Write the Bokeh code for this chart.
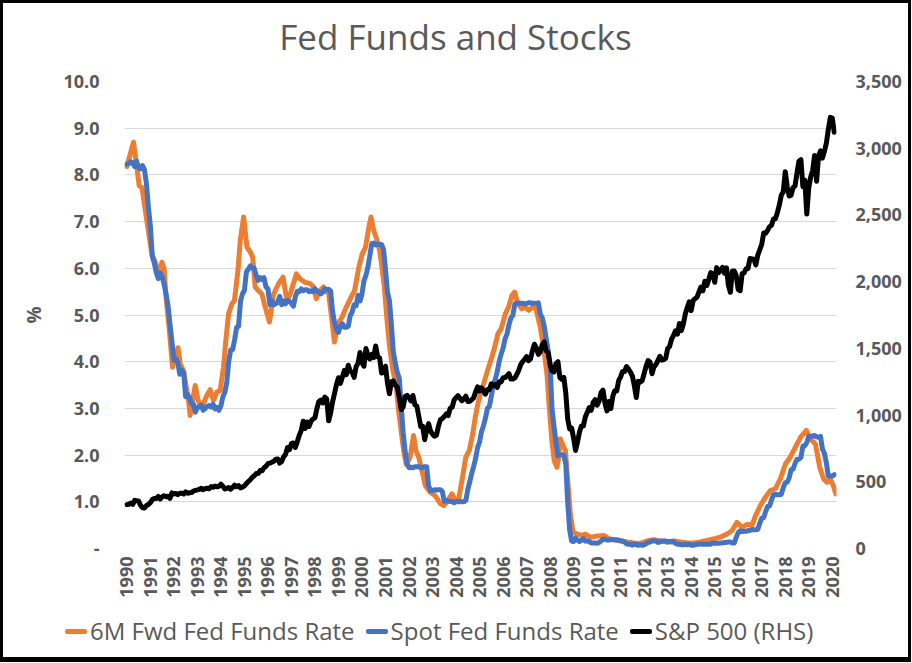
import numpy as np
from bokeh.plotting import figure
from bokeh.layouts import column
from bokeh.models import (Range1d, LinearAxis, FixedTicker, NumeralTickFormatter, Div)
from bokeh.embed import file_html
from bokeh.resources import INLINE

# ---------------- data ----------------
start_year = 1990  # monthly series start in January 1990

# Spot (effective) Fed Funds rate, monthly, Jan 1990 - Feb 2020 (%)
spot_rate = [
    8.23, 8.24, 8.28, 8.26, 8.18, 8.29, 8.15, 8.13, 8.20, 8.11, 7.81, 7.31,
    6.91, 6.25, 6.12, 5.91, 5.78, 5.90, 5.82, 5.66, 5.45, 5.21, 4.81, 4.43,
    4.03, 4.06, 3.98, 3.73, 3.82, 3.76, 3.25, 3.30, 3.22, 3.10, 3.09, 2.92,
    3.02, 3.03, 3.07, 2.96, 3.00, 3.04, 3.06, 3.03, 3.09, 2.99, 3.02, 2.96,
    3.05, 3.25, 3.34, 3.56, 4.01, 4.25, 4.26, 4.47, 4.73, 4.76, 5.29, 5.45,
    5.53, 5.92, 5.98, 6.05, 6.01, 6.00, 5.85, 5.74, 5.80, 5.76, 5.80, 5.60,
    5.56, 5.22, 5.31, 5.22, 5.24, 5.27, 5.40, 5.22, 5.30, 5.24, 5.31, 5.29,
    5.25, 5.19, 5.39, 5.51, 5.50, 5.56, 5.52, 5.54, 5.54, 5.50, 5.52, 5.50,
    5.56, 5.51, 5.49, 5.45, 5.49, 5.56, 5.54, 5.55, 5.51, 5.07, 4.83, 4.68,
    4.63, 4.76, 4.81, 4.74, 4.74, 4.76, 4.99, 5.07, 5.22, 5.20, 5.42, 5.30,
    5.45, 5.73, 5.85, 6.02, 6.27, 6.53, 6.54, 6.50, 6.52, 6.51, 6.51, 6.40,
    5.98, 5.49, 5.31, 4.80, 4.21, 3.97, 3.77, 3.65, 3.07, 2.49, 2.09, 1.82,
    1.73, 1.74, 1.73, 1.75, 1.75, 1.75, 1.73, 1.74, 1.75, 1.75, 1.34, 1.24,
    1.24, 1.26, 1.25, 1.26, 1.26, 1.22, 1.01, 1.03, 1.01, 1.01, 1.00, 0.98,
    1.00, 1.01, 1.00, 1.00, 1.00, 1.03, 1.26, 1.43, 1.61, 1.76, 1.93, 2.16,
    2.28, 2.50, 2.63, 2.79, 3.00, 3.04, 3.26, 3.50, 3.62, 3.78, 4.00, 4.16,
    4.29, 4.49, 4.59, 4.79, 4.94, 4.99, 5.24, 5.25, 5.25, 5.25, 5.25, 5.24,
    5.25, 5.26, 5.26, 5.25, 5.25, 5.25, 5.26, 5.02, 4.94, 4.76, 4.49, 4.24,
    3.94, 2.98, 2.61, 2.28, 1.98, 2.00, 2.01, 2.00, 1.81, 0.97, 0.39, 0.16,
    0.15, 0.22, 0.18, 0.15, 0.18, 0.21, 0.16, 0.16, 0.15, 0.12, 0.12, 0.12,
    0.11, 0.13, 0.16, 0.20, 0.20, 0.18, 0.18, 0.19, 0.19, 0.19, 0.19, 0.18,
    0.17, 0.16, 0.14, 0.10, 0.09, 0.09, 0.07, 0.10, 0.08, 0.07, 0.08, 0.07,
    0.08, 0.10, 0.13, 0.14, 0.16, 0.16, 0.16, 0.13, 0.14, 0.16, 0.16, 0.16,
    0.14, 0.15, 0.14, 0.15, 0.11, 0.09, 0.09, 0.08, 0.08, 0.09, 0.08, 0.09,
    0.07, 0.07, 0.08, 0.09, 0.09, 0.10, 0.09, 0.09, 0.09, 0.09, 0.09, 0.12,
    0.11, 0.11, 0.11, 0.12, 0.12, 0.13, 0.13, 0.14, 0.14, 0.12, 0.12, 0.24,
    0.34, 0.38, 0.36, 0.37, 0.37, 0.38, 0.39, 0.40, 0.40, 0.40, 0.41, 0.54,
    0.65, 0.66, 0.79, 0.90, 0.91, 1.04, 1.15, 1.16, 1.15, 1.15, 1.16, 1.30,
    1.41, 1.42, 1.51, 1.69, 1.70, 1.82, 1.91, 1.91, 1.95, 2.19, 2.20, 2.27,
    2.40, 2.40, 2.41, 2.42, 2.39, 2.38, 2.40, 2.13, 2.04, 1.83, 1.55, 1.55,
    1.55, 1.58,
]

# S&P 500, monthly, Jan 1990 - Feb 2020 (index level, RHS)
sp500 = [
    329, 332, 340, 331, 361, 358, 356, 323, 306, 304, 322, 330,
    344, 367, 375, 375, 390, 371, 388, 395, 388, 392, 375, 417,
    409, 413, 404, 415, 415, 408, 424, 414, 418, 419, 431, 436,
    439, 443, 452, 440, 450, 451, 448, 464, 459, 468, 462, 466,
    482, 467, 446, 451, 457, 444, 458, 475, 463, 472, 454, 459,
    470, 487, 501, 515, 533, 545, 562, 562, 584, 582, 605, 616,
    636, 640, 646, 654, 669, 671, 640, 652, 687, 705, 757, 741,
    786, 791, 757, 801, 848, 885, 954, 899, 947, 915, 955, 970,
    980, 1049, 1102, 1112, 1091, 1134, 1121, 957, 1017, 1099, 1164, 1229,
    1280, 1238, 1286, 1335, 1302, 1373, 1329, 1320, 1283, 1363, 1389, 1469,
    1394, 1366, 1499, 1452, 1421, 1455, 1431, 1518, 1437, 1429, 1315, 1320,
    1366, 1240, 1160, 1249, 1256, 1224, 1211, 1134, 1041, 1060, 1139, 1148,
    1130, 1107, 1147, 1077, 1067, 990, 912, 916, 815, 886, 936, 880,
    856, 841, 848, 917, 964, 975, 990, 1008, 996, 1051, 1058, 1112,
    1131, 1145, 1126, 1107, 1121, 1141, 1102, 1104, 1115, 1130, 1174, 1212,
    1181, 1204, 1181, 1157, 1192, 1191, 1234, 1220, 1229, 1207, 1249, 1248,
    1280, 1281, 1295, 1311, 1270, 1270, 1277, 1304, 1336, 1378, 1401, 1418,
    1438, 1407, 1421, 1482, 1531, 1503, 1455, 1474, 1527, 1549, 1481, 1468,
    1379, 1331, 1323, 1386, 1400, 1280, 1267, 1283, 1166, 969, 896, 903,
    826, 735, 798, 873, 919, 919, 987, 1021, 1057, 1036, 1096, 1115,
    1074, 1104, 1169, 1187, 1089, 1031, 1102, 1049, 1141, 1183, 1181, 1258,
    1286, 1327, 1326, 1364, 1345, 1321, 1292, 1219, 1131, 1253, 1247, 1258,
    1312, 1366, 1408, 1398, 1310, 1362, 1379, 1407, 1441, 1412, 1416, 1426,
    1498, 1515, 1569, 1598, 1631, 1606, 1686, 1633, 1682, 1757, 1806, 1848,
    1783, 1859, 1872, 1884, 1924, 1960, 1931, 2003, 1972, 2018, 2068, 2059,
    1995, 2105, 2068, 2086, 2107, 2063, 2104, 1972, 1920, 2079, 2080, 2044,
    1940, 1932, 2060, 2065, 2097, 2099, 2174, 2171, 2168, 2126, 2199, 2239,
    2279, 2364, 2363, 2384, 2412, 2423, 2470, 2472, 2519, 2575, 2648, 2674,
    2824, 2714, 2641, 2648, 2705, 2718, 2816, 2902, 2914, 2712, 2760, 2507,
    2704, 2784, 2834, 2946, 2752, 2942, 2980, 2926, 2977, 3038, 3141, 3231,
    3226, 3120,
]

# 6M forward Fed Funds rate (months since Jan 1990, %)
fwd_month = [
    0, 3.4, 5, 6.3, 7.7, 10.2, 12.8, 14.5, 16, 17.9, 19, 20, 21.7, 23.3,
    26.1, 27.3, 29, 30.6, 31.5, 32.3, 33.5, 34.9, 36.2, 37.4, 39.1, 40.8,
    42.5, 44.2, 45.9, 47.6, 49.3, 50.5, 51.9, 53.6, 54.9, 56.7, 57.9, 59.6,
    61.3, 63, 64.2, 65.5, 67.2, 68.9, 70.6, 72.8, 74.9, 77.4, 79.7, 81.7,
    83.4, 86.5, 88.5, 91.0, 93.6, 95.3, 96.7, 98.4, 100.4, 103, 104.7, 105.9,
    107.6, 109.8, 112, 114.1, 116.2, 118.4, 120.1, 121.8, 123.5, 124.6, 126,
    127.7, 129, 130.2, 131.4, 132.8, 134.1, 135.8, 137.5, 138.7, 140, 141.3,
    142.6, 144.6, 146.3, 147.5, 148.9, 150.6, 152.3, 154.9, 157.4, 160,
    161.7, 163.9, 165.9, 167.6, 169.3, 171, 173, 174.8, 176.5, 177.8, 179.5,
    182.1, 184.6, 186.3, 187.7, 189.4, 191, 193.1, 194.8, 196.5, 197.9,
    199.6, 201.6, 203.3, 205, 207, 208.8, 211, 212.7, 214.4, 215.6, 216.9,
    218.1, 219.5, 220.4, 221.2, 222.6, 223.8, 225, 226.3, 227.7, 229.7,
    232.3, 234, 236.6, 239.1, 243.4, 246, 248.4, 251.8, 255.2, 258.6, 262,
    265.4, 268.8, 272.3, 275.7, 279.1, 282.5, 285.9, 289.3, 292.7, 297.8,
    302.9, 306.3, 308.8, 311.4, 314, 316.5, 319, 320.8, 323.3, 325.9, 328.4,
    331, 333.5, 336.1, 338.6, 341.2, 343.8, 346.8, 348.8, 351.4, 353.6,
    355.6, 357.3, 359, 360.5, 361.8,
]
fwd_rate = [
    8.18, 8.70, 8.20, 7.77, 7.73, 7.02, 6.30, 6.13, 5.88, 6.13, 6.00, 5.38, 4.67, 3.88,
    4.30, 3.94, 3.80, 3.38, 3.17, 2.85, 3.17, 3.49, 3.20, 3.06, 3.10, 3.28,
    3.40, 3.17, 3.35, 3.38, 3.88, 4.45, 5.02, 5.24, 5.31, 5.95, 6.60, 7.10,
    6.45, 6.35, 6.24, 5.60, 5.52, 5.45, 5.17, 4.85, 5.45, 5.67, 5.81, 5.31,
    5.45, 5.88, 5.77, 5.70, 5.67, 5.60, 5.35, 5.52, 5.60, 5.45, 4.88, 4.42,
    4.81, 4.95, 5.17, 5.35, 5.52, 6.02, 6.31, 6.45, 6.88, 7.10, 6.81,
    6.60, 6.38, 6.02, 5.60, 4.88, 4.31, 3.81, 3.45, 2.95, 2.52, 2.09,
    1.80, 1.96, 2.42, 2.10, 1.96, 1.67, 1.35, 1.20, 1.13, 0.96,
    0.92, 1.03, 1.17, 1.03, 1.06, 1.45, 1.96, 2.10, 2.45, 2.81, 3.17,
    3.53, 3.88, 4.10, 4.31, 4.60, 4.70, 5.02, 5.17, 5.42, 5.49,
    5.24, 5.13, 5.17, 5.10, 5.17, 5.13, 4.74, 4.31, 3.74, 3.02, 2.31,
    1.88, 1.74, 1.96, 2.35, 2.20, 2.10, 1.45, 0.74, 0.35, 0.31,
    0.28, 0.31, 0.24, 0.26, 0.28, 0.21, 0.19, 0.16, 0.14, 0.12, 0.11,
    0.16, 0.19, 0.16, 0.14, 0.16, 0.14, 0.12, 0.12, 0.14, 0.19,
    0.24, 0.31, 0.38, 0.56, 0.45, 0.52, 0.49, 0.70, 0.92, 1.10, 1.24,
    1.28, 1.49, 1.81, 1.96, 2.17, 2.38, 2.53, 2.35, 2.24, 1.74,
    1.49, 1.42, 1.49, 1.35, 1.17,
]

year_ticks = list(range(1990, 2021))
rate_ticks = list(range(0, 11))
sp_ticks = list(range(0, 3501, 500))
series_names = ["6M Fwd Fed Funds Rate", "Spot Fed Funds Rate", "S&P 500 (RHS)"]
chart_title = "Fed Funds and Stocks"

# ---------------- layout constants ----------------
GRAY = "#595959"
FONT = "Open Sans"
COLORS = ["#ED7D31", "#4472C4", "#000000"]
W = 911          # full chart width
H_TITLE = 60     # title strip
H_CHART = 540    # plot with its axes
H_LEG = 62       # legend strip
EDGE = "3px solid black"

t_spot = start_year + np.arange(len(spot_rate)) / 12.0
t_sp = start_year + np.arange(len(sp500)) / 12.0
t_fwd = start_year + np.array(fwd_month) / 12.0

# ---------------- title strip ----------------
title_div = Div(
    text=(f'<div style="box-sizing:border-box;width:{W}px;height:{H_TITLE}px;'
          f'border-top:{EDGE};border-left:{EDGE};border-right:{EDGE};'
          f"padding-top:16px;text-align:center;font-family:'{FONT}';"
          f'font-size:35px;line-height:35px;color:{GRAY};white-space:nowrap">'
          f'{chart_title}</div>'),
    width=W, height=H_TITLE, margin=(0, 0, 0, 0))

# ---------------- main plot ----------------
p = figure(width=W, height=H_CHART, output_backend="svg", toolbar_location=None,
           x_range=Range1d(1989.90, 2020.18), y_range=Range1d(0, 10),
           min_border_left=121, min_border_right=78, min_border_top=21,
           min_border_bottom=52, margin=(0, 0, 0, 0),
           styles={"border-left": EDGE, "border-right": EDGE})
p.extra_y_ranges = {"sp": Range1d(0, 3500)}
p.outline_line_color = None
p.background_fill_color = "white"
p.border_fill_color = "white"

# grid
p.xgrid.grid_line_color = None
p.ygrid.grid_line_color = "#D9D9D9"
p.ygrid.grid_line_width = 1

# left axis
ya = p.yaxis[0]
ya.ticker = FixedTicker(ticks=rate_ticks)
ya.formatter = NumeralTickFormatter(format="0.0")
ya.major_label_overrides = {0: "-"}
ya.axis_label = "%"
ya.axis_label_text_font = FONT
ya.axis_label_text_font_size = "19px"
ya.axis_label_text_font_style = "bold"
ya.axis_label_text_color = GRAY
ya.axis_label_standoff = 13

# right axis
ra = LinearAxis(y_range_name="sp", ticker=FixedTicker(ticks=sp_ticks),
                formatter=NumeralTickFormatter(format="0,0"))
p.add_layout(ra, "right")

# bottom axis
xa = p.xaxis[0]
xa.ticker = FixedTicker(ticks=year_ticks)
xa.formatter = NumeralTickFormatter(format="0")
xa.major_label_orientation = np.pi / 2

for ax in (ya, ra, xa):
    ax.axis_line_color = None
    ax.major_tick_line_color = None
    ax.minor_tick_line_color = None
    ax.major_tick_in = 0
    ax.major_tick_out = 0
    ax.minor_tick_in = 0
    ax.minor_tick_out = 0
    ax.major_label_text_font = FONT
    ax.major_label_text_font_size = "18px"
    ax.major_label_text_font_style = "bold"
    ax.major_label_text_color = GRAY
ya.major_label_standoff = 25
ra.major_label_standoff = 19
xa.major_label_standoff = 8

# lines
p.line(t_fwd, fwd_rate, line_color=COLORS[0], line_width=5,
       line_join="round", line_cap="round")
p.line(t_spot, spot_rate, line_color=COLORS[1], line_width=5,
       line_join="round", line_cap="round")
p.line(t_sp, sp500, line_color=COLORS[2], line_width=5,
       line_join="round", line_cap="round", y_range_name="sp")

# ---------------- legend strip (below the chart) ----------------
item_html = "".join(
    '<span style="display:inline-flex;align-items:center;margin-right:11px">'
    '<span style="display:inline-block;width:22px;height:5px;border-radius:2px;'
    f'background:{c};margin-right:3px"></span>{name}</span>'
    for name, c in zip(series_names, COLORS)
)
legend_div = Div(
    text=(f'<div style="display:flex;align-items:center;box-sizing:border-box;'
          f'width:{W}px;height:{H_LEG}px;border-left:{EDGE};border-right:{EDGE};'
          f'border-bottom:5px solid black;padding-top:6px;padding-left:62px;'
          f"font-family:'{FONT}';font-size:24px;color:{GRAY};white-space:nowrap\">"
          f'{item_html}</div>'),
    width=W, height=H_LEG, margin=(0, 0, 0, 0))

layout = column(title_div, p, legend_div, spacing=0)

open("out.html", "w").write(file_html(layout, INLINE))
